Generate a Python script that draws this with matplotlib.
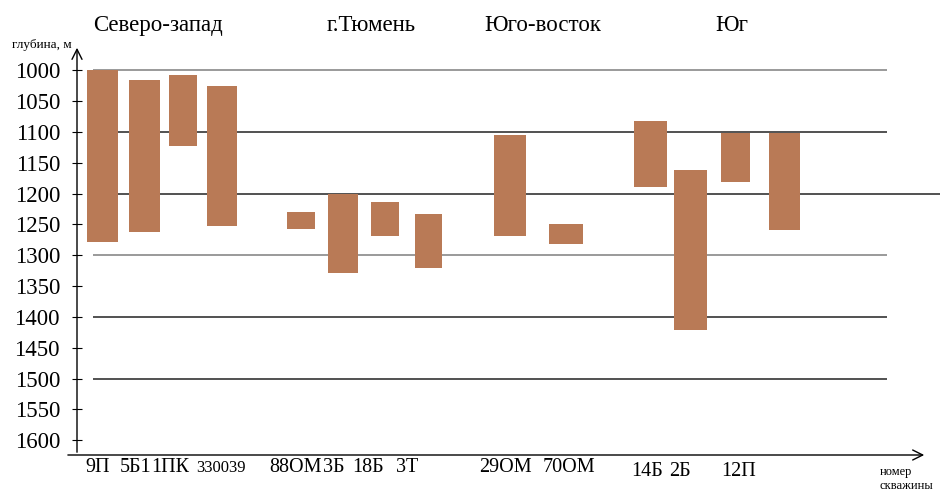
"""
Depth intervals of wells by region (floating bars on an inverted depth axis).
"""
import matplotlib
matplotlib.use('Agg')

import matplotlib.pyplot as plt

# data
wells = ["9П", "5Б1", "1ПК", "330039", "88ОМ", "3Б", "18Б", "3Т",
         "29ОМ", "70ОМ", "14Б", "2Б", "12П"]
depth_top = [1000, 1016, 1008, 1026, 1230, 1201, 1214, 1233,
             1105, 1249, 1083, 1161, 1102, 1102]
depth_bottom = [1279, 1263, 1123, 1253, 1258, 1329, 1269, 1321,
                1269, 1282, 1190, 1421, 1182, 1259]
regions = ["Северо-запад", "г.Тюмень", "Юго-восток", "Юг"]
y_ticks = list(range(1000, 1601, 50))
grid_levels = [1000, 1100, 1200, 1300, 1400, 1500]

# layout (x units: 1 unit ~ 10 px from the y axis)
bar_x = [2.55, 6.75, 10.6, 14.5, 22.4, 26.6, 30.8, 35.15,
         43.3, 48.9, 57.35, 61.35, 65.85, 70.75]
bar_w = [3.1, 3.1, 2.8, 3.0, 2.8, 3.0, 2.8, 2.7,
         3.2, 3.4, 3.3, 3.3, 2.9, 3.1]
label_x = [2.1, 5.9, 9.3, 14.4, 21.8, 25.7, 29.1, 33.0,
           42.8, 49.2, 57.0, 60.3, 66.2]
label_size = [14.5, 14.5, 14.5, 12, 14.5, 14.5, 14.5, 14.5,
              14.5, 14.5, 14.5, 14.5, 14.5]
label_base = [-0.042] * 10 + [-0.05] * 3
region_x = [8.1, 29.4, 46.6, 65.5]
grid_end = [81.0, 81.0, 86.3, 81.0, 81.0, 81.0]
grid_color = ["#7f7f7f", "#222222", "#222222", "#7f7f7f", "#222222", "#222222"]
bar_color = "#B97A56"

plt.rcParams['font.family'] = ['Liberation Serif', 'DejaVu Serif']

W, H = 944, 493
fig = plt.figure(figsize=(W / 100, H / 100), dpi=100)
ax = fig.add_axes([77 / W, (H - 455) / H, (927 - 77) / W, (455 - 45) / H])
ax.set_xlim(0, 85)
ax.set_ylim(1624, 959)

for s in ax.spines.values():
    s.set_visible(False)

# horizontal lines
for lvl, xe, c in zip(grid_levels, grid_end, grid_color):
    ax.hlines(lvl, 1.6, xe, colors=c, linewidth=1.1, zorder=1, clip_on=False)

# floating bars
heights = [b - t for t, b in zip(depth_top, depth_bottom)]
ax.bar(bar_x, heights, bottom=depth_top, width=bar_w, color=bar_color,
       zorder=2)

# axes with arrows
arrow = dict(arrowstyle="->", color="black", lw=1.0, mutation_scale=18)
ax.annotate("", xy=(0, 1.0), xytext=(0, 0), xycoords='axes fraction',
            arrowprops=arrow, annotation_clip=False)
ax.annotate("", xy=(1.0, 0), xytext=(-0.014, 0), xycoords='axes fraction',
            arrowprops=arrow, annotation_clip=False)

ax.set_yticks(y_ticks)
ax.set_yticklabels([str(v) for v in y_ticks])
ax.tick_params(axis='y', direction='inout', length=6.5, width=0.8,
               pad=9, labelsize=16.5)
ax.set_xticks([])

# well labels under the axis
xt = ax.get_xaxis_transform()
for name, x, fs, yb in zip(wells, label_x, label_size, label_base):
    ax.text(x, yb, name, transform=xt, ha='center', va='baseline',
            fontsize=fs, clip_on=False)

# region titles
for name, x in zip(regions, region_x):
    ax.text(x, 1.048, name, transform=xt, ha='center', va='center',
            fontsize=16.5)

fig.text(72 / W, 1 - 45 / H, "глубина, м", ha='right', va='center', fontsize=9.5)
fig.text(880 / W, 1 - 472 / H, "номер", ha='left', va='center', fontsize=9)
fig.text(880 / W, 1 - 486 / H, "скважины", ha='left', va='center', fontsize=9)

fig.savefig("out.png", dpi=100)
